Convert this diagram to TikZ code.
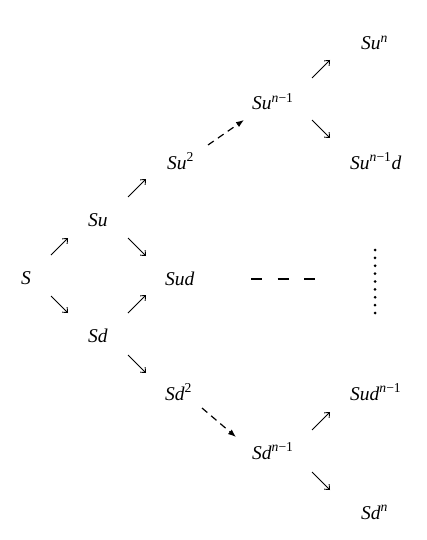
\documentclass[tikz,border=0pt]{standalone}
\usepackage{fontspec}
\setmainfont{Liberation Serif}
\usetikzlibrary{arrows.meta}
\tikzset{
  lbl/.style={anchor=base west, inner sep=0pt, font=\fontsize{19.5}{23}\selectfont\itshape},
  arr/.style={line width=0.9pt, -{Straight Barb[length=4pt,width=7pt]}},
  darr/.style={line width=1.2pt, dash pattern=on 7pt off 5pt, -{Latex[length=8pt,width=6pt]}},
}
\newcommand{\sps}[1]{\textsuperscript{\upshape #1}}
\begin{document}
\begin{tikzpicture}[x=1pt,y=-1pt]
\useasboundingbox (0,0) rectangle (427,540);
% nodes
\node[lbl] (S)   at (21,284)  {S};
\node[lbl] (Su)  at (88,226)  {Su};
\node[lbl] (Sd)  at (88,342)  {Sd};
\node[lbl] (Sud) at (165,285) {Sud};
\node[lbl] (Su2) at (167,169) {Su\sps{2}};
\node[lbl] (Sd2) at (165,400) {Sd\sps{2}};
\node[lbl] (Sun1) at (252,110) {Su\textsuperscript{\itshape n\upshape −1}};
\node[lbl] (Sdn1) at (252,459) {Sd\textsuperscript{\itshape n\upshape −1}};
\node[lbl] (Sun)  at (361,50)  {Su\textsuperscript{\itshape n}};
\node[lbl] (Sun1d) at (350,169) {Su\textsuperscript{\itshape n\upshape −1}d};
\node[lbl] (Sudn1) at (350,400) {Sud\textsuperscript{\itshape n\upshape −1}};
\node[lbl] (Sdn)  at (361,519) {Sd\textsuperscript{\itshape n}};
% arrow end points
\coordinate (a1s) at (51,255);  \coordinate (a1e) at (68,238);
\coordinate (a2s) at (51,296);  \coordinate (a2e) at (68,313);
\coordinate (a3s) at (128,238); \coordinate (a3e) at (146,256);
\coordinate (a4s) at (128,313); \coordinate (a4e) at (146,295);
\coordinate (a5s) at (128,197); \coordinate (a5e) at (146,179);
\coordinate (a6s) at (128,355); \coordinate (a6e) at (146,373);
\coordinate (a7s) at (312,78);  \coordinate (a7e) at (330,60);
\coordinate (a8s) at (312,120); \coordinate (a8e) at (330,138);
\coordinate (a9s) at (312,430); \coordinate (a9e) at (330,412);
\coordinate (a10s) at (312,472); \coordinate (a10e) at (330,490);
\coordinate (d1s) at (208,145); \coordinate (d1e) at (244,120);
\coordinate (d2s) at (202,408); \coordinate (d2e) at (236,437);
\coordinate (hs) at (251,279);  \coordinate (he) at (316,279);
% arrows
\draw[arr] (a1s) -- (a1e);
\draw[arr] (a2s) -- (a2e);
\draw[arr] (a3s) -- (a3e);
\draw[arr] (a4s) -- (a4e);
\draw[arr] (a5s) -- (a5e);
\draw[arr] (a6s) -- (a6e);
\draw[arr] (a7s) -- (a7e);
\draw[arr] (a8s) -- (a8e);
\draw[arr] (a9s) -- (a9e);
\draw[arr] (a10s) -- (a10e);
\draw[darr] (d1s) -- (d1e);
\draw[darr] (d2s) -- (d2e);
\draw[line width=1.3pt, dash pattern=on 11pt off 15.5pt] (hs) -- (he);
\foreach \i in {0,...,8} \fill (375,250+7.875*\i) circle (1.5);
\end{tikzpicture}
\end{document}
